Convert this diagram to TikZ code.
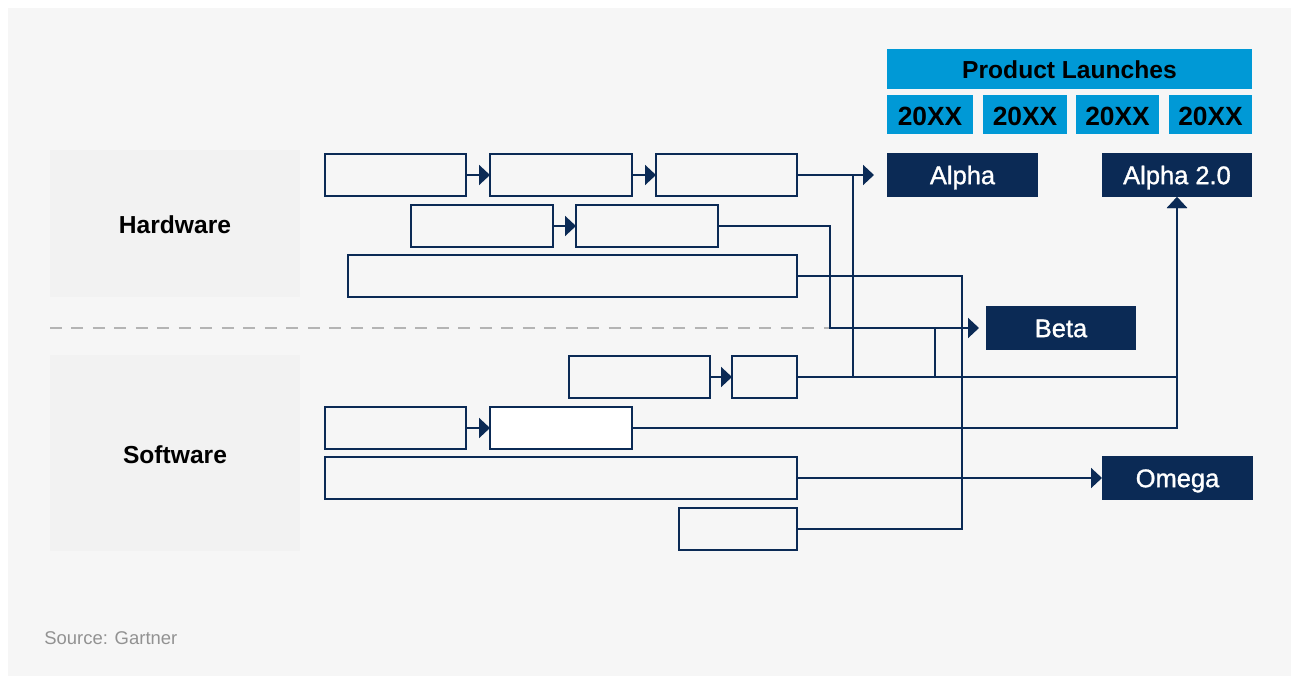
\documentclass[tikz,border=0pt]{standalone}
\usepackage{fontspec}
\setmainfont{Liberation Sans}
\newfontfamily\launchfont[FakeBold=1.2]{Liberation Sans}
\usetikzlibrary{arrows.meta}

\definecolor{navy}{HTML}{0B2A55}
\definecolor{sky}{HTML}{0099D6}
\definecolor{panel}{HTML}{F6F6F6}
\definecolor{band}{HTML}{F2F2F2}
\definecolor{rulegray}{HTML}{B4B4B4}
\definecolor{srcgray}{HTML}{929292}

\tikzset{
  sz/.style 2 args={minimum width=#1*0.02cm, minimum height=#2*0.02cm},
  task/.style={draw=navy, line width=1.15pt, fill=panel, inner sep=0pt, outer sep=0pt},
  launch/.style={fill=navy, text=white, inner sep=0pt, outer sep=0pt,
    text height=10.4pt, text depth=0pt,
    font=\fontsize{14.5}{16}\launchfont},
  header/.style={fill=sky, text=black, inner sep=0pt, outer sep=0pt,
    text height=11.1pt, text depth=0pt,
    font=\fontsize{14}{16}\selectfont\bfseries},
  yearbox/.style={fill=sky, text=black, inner sep=0pt, outer sep=0pt,
    text height=13pt, text depth=0pt,
    font=\fontsize{15}{17}\selectfont\bfseries},
  band/.style={fill=band, inner sep=0pt, outer sep=0pt},
  rowname/.style={inner sep=0pt, text height=10pt, text depth=0pt,
    font=\fontsize{14}{16}\selectfont\bfseries},
  link/.style={draw=navy, line width=1.15pt},
  arr/.style={link, -{Triangle[length=2.2mm, width=4mm]}},
}

\begin{document}
\begin{tikzpicture}[x=0.02cm, y=-0.02cm]
  \useasboundingbox (0,0) rectangle (1291,676);
  \fill[white] (0,0) rectangle (1291,676);
  \fill[panel] (8,8) rectangle (1291,676);

  % row labels
  \node[band, sz={250}{147}] (hw) at (175,223.5) {};
  \node[rowname] (hwt) at (175,225) {Hardware};
  \node[band, sz={250}{196}] (sw) at (175,453) {};
  \node[rowname] (swt) at (175,455) {Software};

  % launch header
  \node[header, sz={365}{40}] (pl) at (1069.5,69) {Product Launches};
  \node[yearbox, sz={86}{39}] (y1) at (930,114.5) {20XX};
  \node[yearbox, sz={84}{39}] (y2) at (1025,114.5) {20XX};
  \node[yearbox, sz={83}{39}] (y3) at (1117.5,114.5) {20XX};
  \node[yearbox, sz={83}{39}] (y4) at (1210.5,114.5) {20XX};

  % launches
  \node[launch, sz={151}{44}] (alpha) at (962.5,175) {Alpha};
  \node[launch, sz={150}{44}] (alpha2) at (1177,175) {Alpha 2.0};
  \node[launch, sz={150}{44}] (beta) at (1061,328) {Beta};
  \node[launch, sz={151}{44}] (omega) at (1177.5,478) {Omega};

  % routing columns
  \coordinate (xa) at (853,0);
  \coordinate (xb) at (830,0);
  \coordinate (xc) at (935,0);
  \coordinate (xd) at (962,0);
  \coordinate (dl) at (50,328);

  % hardware / software separator
  \draw[rulegray, line width=0.9pt, dash pattern=on 0.24cm off 0.19cm] (dl) -- (xb |- dl);

  % hardware tasks
  \node[task, sz={141}{42}] (a1) at (395.5,175) {};
  \node[task, sz={142}{42}] (a2) at (561,175) {};
  \node[task, sz={141}{42}] (a3) at (726.5,175) {};
  \node[task, sz={142}{42}] (b1) at (482,226) {};
  \node[task, sz={142}{42}] (b2) at (647,226) {};
  \node[task, sz={449}{42}] (c1) at (572.5,276) {};

  % software tasks
  \node[task, sz={141}{42}] (s1a) at (639.5,377) {};
  \node[task, sz={65}{42}] (s1b) at (764.5,377) {};
  \node[task, sz={141}{42}] (s2a) at (395.5,428) {};
  \node[task, sz={142}{42}, fill=white] (s2b) at (561,428) {};
  \node[task, sz={472}{42}] (s3) at (561,478) {};
  \node[task, sz={118}{42}] (s4) at (738,529) {};

  % sequence arrows
  \draw[arr] (a1) -- (a2);
  \draw[arr] (a2) -- (a3);
  \draw[arr] (b1) -- (b2);
  \draw[arr] (s1a) -- (s1b);
  \draw[arr] (s2a) -- (s2b);

  % feeds into launches
  \draw[arr, shorten >=0.26cm] (a3.east) -- (a3.east -| alpha.west);
  \draw[link] (a3.east -| xa) -- (s1b.east -| xa);
  \draw[arr] (s1b.east) -| (alpha2.south);
  \draw[arr] (s2b.east) -| (alpha2.south);
  \draw[arr, shorten >=0.14cm] (b2.east) -| (xb |- beta.west) -- (beta.west);
  \draw[link] (xc |- beta.west) -- (xc |- s1b.east);
  \draw[link] (c1.east) -| (xd |- s4.east) -- (s4.east);
  \draw[arr] (s3.east) -- (omega.west |- s3.east);

  % source note
  \node[anchor=west, inner sep=0pt, text=srcgray, font=\fontsize{10.5}{12}\selectfont] (src) at (44,638) {Source: Gartner};
\end{tikzpicture}
\end{document}
